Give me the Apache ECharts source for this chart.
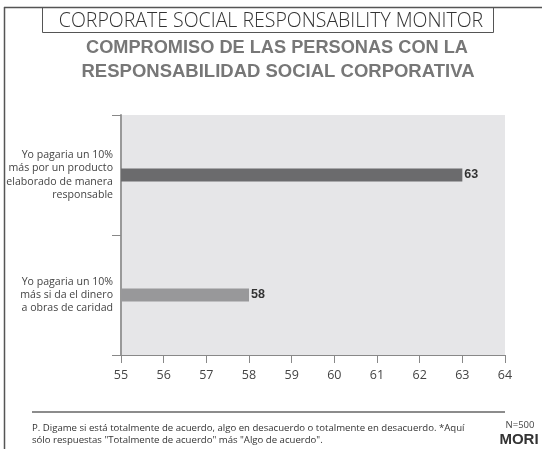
<!DOCTYPE html>
<html><head><meta charset="utf-8">
<script src="https://cdn.jsdelivr.net/npm/echarts@6/dist/echarts.min.js"></script>
<style>html,body{margin:0;padding:0;background:#fff}#c{width:542px;height:449px}</style>
</head><body><div id="c"></div>
<script>
var categories = ['Yo pagaria un 10%\nmás por un producto\nelaborado de manera\nresponsable', 'Yo pagaria un 10%\nmás si da el dinero\na obras de caridad'];
var values = [63, 58];
var barColors = ['#6b6b6d', '#98989a'];
var xMin = 55, xMax = 64;

var chart = echarts.init(document.getElementById('c'));
chart.setOption({
  backgroundColor: '#fff',
  animation: false,
  grid: {left: 121, right: 37, top: 115, bottom: 94, show: true, backgroundColor: '#e6e6e8', borderWidth: 0, containLabel: false, outerBoundsMode: 'none'},
  xAxis: {
    type: 'value', min: xMin, max: xMax, interval: 1,
    axisLine: {show: true, lineStyle: {color: '#888', width: 1}},
    axisTick: {show: true, length: 8, lineStyle: {color: '#888'}},
    axisLabel: {fontFamily: 'Open Sans', fontSize: 12.5, color: '#444', margin: 14},
    splitLine: {show: false}
  },
  yAxis: {
    type: 'category', data: categories, inverse: true,
    axisLine: {show: true, lineStyle: {color: '#999', width: 2}},
    axisTick: {show: true, length: 9, alignWithLabel: false, lineStyle: {color: '#888'}},
    axisLabel: {fontFamily: 'Open Sans', fontSize: 10.6, lineHeight: 13.3, color: '#444', margin: 8, align: 'right'}
  },
  series: [{
    type: 'bar', barWidth: 13,
    data: values.map(function (v, i) { return {value: v, itemStyle: {color: barColors[i]}}; }),
    label: {show: true, position: 'right', distance: 2, fontFamily: 'Liberation Sans', fontWeight: 'bold', fontSize: 12.5, color: '#333'}
  }],
  graphic: [
    {type: 'line', shape: {x1: 4, y1: 7.5, x2: 542, y2: 7.5}, style: {stroke: '#555', lineWidth: 1.5}},
    {type: 'line', shape: {x1: 4.5, y1: 7, x2: 4.5, y2: 449}, style: {stroke: '#555', lineWidth: 1.5}},
    {type: 'rect', shape: {x: 42.5, y: 7.5, width: 451, height: 25}, style: {fill: 'none', stroke: '#555', lineWidth: 1}},
    {type: 'text', x: 271, y: 21, style: {text: 'CORPORATE SOCIAL RESPONSABILITY MONITOR', textAlign: 'center', textVerticalAlign: 'middle', fontFamily: 'Open Sans', fontWeight: 300, fontSize: 19.5, fill: '#333'}},
    {type: 'text', x: 277, y: 48, style: {text: 'COMPROMISO DE LAS PERSONAS CON LA', textAlign: 'center', textVerticalAlign: 'middle', fontFamily: 'Liberation Sans', fontWeight: 'bold', fontSize: 18.2, fill: '#777'}},
    {type: 'text', x: 278, y: 72, style: {text: 'RESPONSABILIDAD SOCIAL CORPORATIVA', textAlign: 'center', textVerticalAlign: 'middle', fontFamily: 'Liberation Sans', fontWeight: 'bold', fontSize: 18.5, fill: '#777'}},
    {type: 'line', shape: {x1: 32, y1: 412, x2: 505, y2: 412}, style: {stroke: '#666', lineWidth: 1.5}},
    {type: 'text', x: 32, y: 428, style: {text: 'P. Digame si está totalmente de acuerdo, algo en desacuerdo o totalmente en desacuerdo. *Aquí', textVerticalAlign: 'middle', fontFamily: 'Open Sans', fontSize: 9.6, fill: '#333'}},
    {type: 'text', x: 32, y: 440, style: {text: 'sólo respuestas "Totalmente de acuerdo" más "Algo de acuerdo".', textVerticalAlign: 'middle', fontFamily: 'Open Sans', fontSize: 9.6, fill: '#333'}},
    {type: 'text', x: 520, y: 425, style: {text: 'N=500', textAlign: 'center', textVerticalAlign: 'middle', fontFamily: 'Open Sans', fontSize: 9.5, fill: '#444'}},
    {type: 'text', x: 519, y: 440, style: {text: 'MORI', textAlign: 'center', textVerticalAlign: 'middle', fontFamily: 'Liberation Sans', fontWeight: 'bold', fontSize: 15, fill: '#333'}}
  ]
});
</script></body></html>
